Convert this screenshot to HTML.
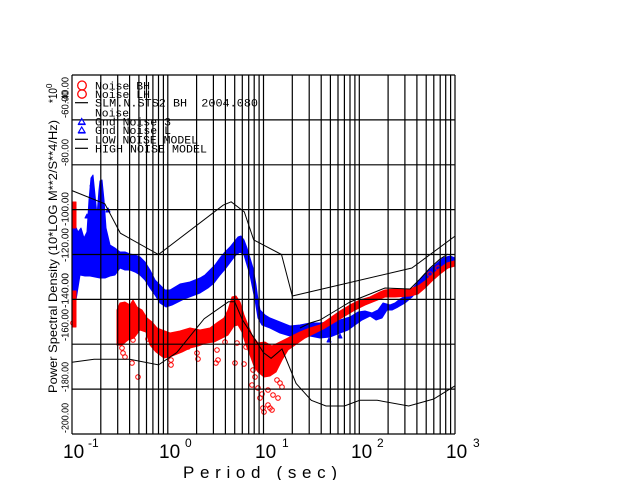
<!DOCTYPE html>
<html>
<head>
<meta charset="utf-8">
<style>
  html, body { margin:0; padding:0; background:#fff; }
  svg { display:block; }
  text { font-family: "Liberation Sans", "DejaVu Sans", sans-serif; fill:#000; }
  .mono { font-family: "Liberation Mono", "DejaVu Sans Mono", monospace; }
</style>
</head>
<body>
<svg width="640" height="480" viewBox="0 0 640 480" xmlns="http://www.w3.org/2000/svg">
  <rect x="0" y="0" width="640" height="480" fill="#fff"/>

  <!-- ===== DATA: blue (Gnd Noise 3) ===== -->
  <g fill="#0000ff" stroke="#0000ff" stroke-width="1" stroke-linejoin="round">
    <rect x="72" y="220" width="3" height="81"/>
    <polygon points="72,222 75,225 78,232 81,228 84,238 87,232 89,200 91,178 93,175 95,195 97,215 99,190 100,181 102,180 104,200 106,228 110,245 115,248 120,252 125,252 130,254 135,255 140,257 145,262 150,270 155,280 160,285 165,290 170,290 175,287 180,284 185,283 190,282 195,280 200,278 205,275 210,270 215,265 220,258 225,252 230,247 234,242 238,237 241,236 244,240 247,248 250,258 253,268 256,285 258,300 260,310 265,315 270,318 280,322 290,326 300,325 310,323 320,323 330,322 340,320 350,317 358,312 365,311 372,313 378,310 383,303 390,305 395,303 400,299 407,295 413,288 420,280 427,272 435,265 443,258 450,256 455,258 455,263 448,263 440,268 432,275 425,283 418,290 412,297 405,303 398,307 392,310 387,310 382,318 376,320 370,316 362,320 355,325 348,330 340,333 330,337 320,338 310,336 300,337 290,336 280,333 270,328 262,325 258,318 255,300 252,285 250,275 247,265 244,255 240,252 236,255 232,260 226,268 220,275 214,283 208,288 200,293 192,296 184,299 178,302 172,305 166,307 160,303 155,295 150,288 145,280 140,275 135,272 130,270 125,270 120,268 115,275 110,276 105,278 100,278 95,277 90,276 85,276 80,275 76,300 72,302"/>
    <!-- scattered triangles near spikes -->
    <polygon points="90,186 92,182 94,186"/>
    <polygon points="99,205 101,201 103,205"/>
    <polygon points="106,212 108,208 110,212"/>
    <polygon points="85,218 87,214 89,218"/>
    <polygon points="338,338 340,334 342,338"/>
    <polygon points="327,342 329,338 331,342"/>
  </g>

  <!-- ===== DATA: red (Noise BH) ===== -->
  <g fill="#ff0000" stroke="#ff0000" stroke-width="1" stroke-linejoin="round">
    <rect x="72" y="202" width="4" height="26"/>
    <rect x="72" y="291" width="4" height="36"/>
    <polygon points="117,310 120,303 125,302 130,305 133,300 137,307 142,310 147,318 152,322 157,328 162,330 170,333 180,331 190,328 200,330 210,328 218,322 224,318 228,310 232,297 236,296 240,302 244,315 248,325 252,335 258,343 265,342 272,346 280,342 290,337 300,332 310,328 320,325 330,318 340,311 350,305 360,300 370,297 380,292 385,290 395,289 410,289 418,286 425,281 432,275 440,268 447,263 454,261 455,266 448,268 440,274 432,281 425,288 418,294 410,296 395,297 385,297 375,301 365,305 355,310 345,316 335,322 325,328 315,333 305,338 295,345 288,350 282,360 276,372 270,376 264,377 258,372 254,366 250,355 246,345 242,332 238,325 234,326 228,335 222,338 214,342 206,343 198,346 190,348 182,352 172,356 164,358 156,352 150,345 146,332 140,330 134,338 128,340 122,345 117,345"/>
  </g>
  <g fill="none" stroke="#ff0000" stroke-width="1">
    <circle cx="73" cy="323" r="2.3"/>
    <circle cx="120" cy="343" r="2.3"/><circle cx="122" cy="348" r="2.3"/>
    <circle cx="123" cy="353" r="2.3"/><circle cx="125" cy="357" r="2.3"/>
    <circle cx="132" cy="363" r="2.3"/><circle cx="138" cy="377" r="2.3"/>
    <circle cx="133" cy="340" r="2.3"/><circle cx="148" cy="339" r="2.3"/>
    <circle cx="171" cy="365" r="2.3"/><circle cx="171" cy="360" r="2.3"/>
    <circle cx="188" cy="347" r="2.3"/><circle cx="198" cy="359" r="2.3"/>
    <circle cx="197" cy="353" r="2.3"/><circle cx="217" cy="350" r="2.3"/>
    <circle cx="218" cy="360" r="2.3"/><circle cx="216" cy="363" r="2.3"/>
    <circle cx="225" cy="342" r="2.3"/><circle cx="235" cy="363" r="2.3"/>
    <circle cx="237" cy="343" r="2.3"/><circle cx="244" cy="364" r="2.3"/>
    <circle cx="246" cy="347" r="2.3"/><circle cx="253" cy="370" r="2.3"/>
    <circle cx="255" cy="377" r="2.3"/><circle cx="252" cy="385" r="2.3"/>
    <circle cx="258" cy="388" r="2.3"/><circle cx="260" cy="398" r="2.3"/>
    <circle cx="262" cy="394" r="2.3"/><circle cx="263" cy="408" r="2.3"/>
    <circle cx="264" cy="412" r="2.3"/><circle cx="268" cy="405" r="2.3"/>
    <circle cx="270" cy="408" r="2.3"/><circle cx="272" cy="410" r="2.3"/>
    <circle cx="268" cy="390" r="2.3"/><circle cx="273" cy="395" r="2.3"/>
    <circle cx="278" cy="398" r="2.3"/><circle cx="282" cy="387" r="2.3"/>
    <circle cx="277" cy="380" r="2.3"/><circle cx="280" cy="383" r="2.3"/>
    <circle cx="430" cy="274" r="2.3"/><circle cx="438" cy="268" r="2.3"/>
  </g>

  <!-- ===== DATA: black SLM line ===== -->
  <polyline fill="none" stroke="#000" stroke-width="1" points="300,328 310,323 320,320 330,314 340,308 350,302 360,298 370,294 380,290 385,288 410,289 420,279 430,268 440,259 448,254"/>

  <!-- ===== GRID ===== -->
  <g stroke="#000" stroke-width="1.2" fill="none">
    <path d="M72,75V434 M100.8,75V434 M117.7,75V434 M129.6,75V434 M138.9,75V434 M146.5,75V434 M152.9,75V434 M158.5,75V434 M163.4,75V434
             M167.8,75V434 M196.6,75V434 M213.4,75V434 M225.4,75V434 M234.7,75V434 M242.3,75V434 M248.7,75V434 M254.2,75V434 M259.1,75V434
             M263.5,75V434 M292.3,75V434 M309.2,75V434 M321.2,75V434 M330.4,75V434 M338,75V434 M344.4,75V434 M350,75V434 M354.9,75V434
             M359.3,75V434 M388.1,75V434 M404.9,75V434 M416.9,75V434 M426.2,75V434 M433.8,75V434 M440.2,75V434 M445.7,75V434 M450.6,75V434
             M455,75V434"/>
    <path d="M72,75H455 M72,119.9H455 M72,164.8H455 M72,209.6H455 M72,254.5H455 M72,299.4H455 M72,344.2H455 M72,389.1H455 M72,434H455"/>
  </g>

  <!-- ===== NOISE MODELS ===== -->
  <g fill="none" stroke="#000" stroke-width="1">
    <!-- low noise model -->
    <polyline points="72,362.2 94.1,359.3 129.6,359.3 158.5,364.9 176.7,352.6 204.2,318.7 228.4,301.8 234.7,301.8 242.3,319.6 263.5,352.7 271.1,358.3 282,349 296.1,383.5 311.3,400.3 326,406 344.4,406 359.7,400.3 377.2,400.3 408.7,406 433.7,399 455,385.8"/>
    <!-- high noise model -->
    <polyline points="72,190.6 104.8,203.8 120.4,233.2 158.5,254.5 223.3,205.1 231.2,201.8 244.3,211.9 253.7,239.9 281.5,254.5 292.3,296 411.9,268 455,236.1"/>
  </g>

  <!-- ===== LEGEND ===== -->
  <g>
    <ellipse cx="82" cy="85.5" rx="4.3" ry="4.5" fill="none" stroke="#ff0000" stroke-width="1.3"/>
    <ellipse cx="82" cy="94" rx="4.3" ry="4.2" fill="none" stroke="#ff0000" stroke-width="1.3"/>
    <line x1="75" y1="102.7" x2="88" y2="102.7" stroke="#000" stroke-width="1.2"/>
    <polygon points="78.5,124 81.7,118.5 85,124" fill="none" stroke="#0000ff" stroke-width="1.2"/>
    <line x1="78" y1="124.5" x2="85.5" y2="124.5" stroke="#0000ff" stroke-width="1.2"/>
    <polygon points="78.5,132.5 81.7,127 85,132.5" fill="none" stroke="#0000ff" stroke-width="1.2"/>
    <line x1="78" y1="133" x2="85.5" y2="133" stroke="#0000ff" stroke-width="1.2"/>
    <line x1="75" y1="139.3" x2="88" y2="139.3" stroke="#000" stroke-width="1.2"/>
    <line x1="75" y1="148.3" x2="88" y2="148.3" stroke="#000" stroke-width="1.2"/>
  </g>
  <g class="mono" font-size="11">
    <text class="mono" x="95" y="89.3" textLength="55" lengthAdjust="spacingAndGlyphs">Noise BH</text>
    <text class="mono" x="95" y="98" textLength="55" lengthAdjust="spacingAndGlyphs">Noise LH</text>
    <text class="mono" x="95" y="106.7" textLength="163" lengthAdjust="spacingAndGlyphs" xml:space="preserve">SLM.N.STS2 BH  2004.080</text>
    <text class="mono" x="95" y="116.5" textLength="34" lengthAdjust="spacingAndGlyphs">Noise</text>
    <text class="mono" x="95" y="125.7" textLength="76" lengthAdjust="spacingAndGlyphs">Gnd Noise 3</text>
    <text class="mono" x="95" y="134" textLength="76" lengthAdjust="spacingAndGlyphs">Gnd Noise L</text>
    <text class="mono" x="95" y="143.3" textLength="103" lengthAdjust="spacingAndGlyphs">LOW NOISE MODEL</text>
    <text class="mono" x="95" y="152.3" textLength="112" lengthAdjust="spacingAndGlyphs">HIGH NOISE MODEL</text>
  </g>

  <!-- ===== Y TICK LABELS (rotated) ===== -->
  <g font-size="10.5">
    <text transform="translate(68.5,118) rotate(-90)" textLength="27" lengthAdjust="spacingAndGlyphs">-60.00</text>
    <text transform="translate(68.5,103) rotate(-90)" textLength="26" lengthAdjust="spacingAndGlyphs">-40.00</text>
    <text transform="translate(68.5,166) rotate(-90)" textLength="27" lengthAdjust="spacingAndGlyphs">-80.00</text>
    <text transform="translate(68.5,226) rotate(-90)" textLength="34" lengthAdjust="spacingAndGlyphs">-100.00</text>
    <text transform="translate(68.5,262) rotate(-90)" textLength="34" lengthAdjust="spacingAndGlyphs">-120.00</text>
    <text transform="translate(68.5,308) rotate(-90)" textLength="35" lengthAdjust="spacingAndGlyphs">-140.00</text>
    <text transform="translate(68.5,341) rotate(-90)" textLength="32" lengthAdjust="spacingAndGlyphs">-160.00</text>
    <text transform="translate(68.5,392) rotate(-90)" textLength="30" lengthAdjust="spacingAndGlyphs">-180.00</text>
    <text transform="translate(68.5,433) rotate(-90)" textLength="30" lengthAdjust="spacingAndGlyphs">-200.00</text>
  </g>

  <!-- ===== Y AXIS TITLE ===== -->
  <text transform="translate(57,393) rotate(-90)" font-size="12" textLength="273" lengthAdjust="spacingAndGlyphs">Power Spectral Density (10*LOG M**2/S**4/Hz)</text>
  <text transform="translate(57,103) rotate(-90)" font-size="12" textLength="15" lengthAdjust="spacingAndGlyphs">*10</text>
  <text transform="translate(52,88) rotate(-90)" font-size="8">0</text>

  <!-- ===== X TICK LABELS ===== -->
  <g font-size="19">
    <text x="63" y="458">10</text>
    <text x="159" y="458">10</text>
    <text x="255" y="458">10</text>
    <text x="351" y="458">10</text>
    <text x="446" y="458">10</text>
  </g>
  <g font-size="12">
    <text x="88" y="447">-1</text>
    <text x="185" y="447">0</text>
    <text x="282" y="447">1</text>
    <text x="377" y="447">2</text>
    <text x="473" y="447">3</text>
  </g>

  <!-- ===== X AXIS TITLE ===== -->
  <text x="183" y="478" font-size="17" textLength="154" lengthAdjust="spacing">Period (sec)</text>
</svg>
</body>
</html>
